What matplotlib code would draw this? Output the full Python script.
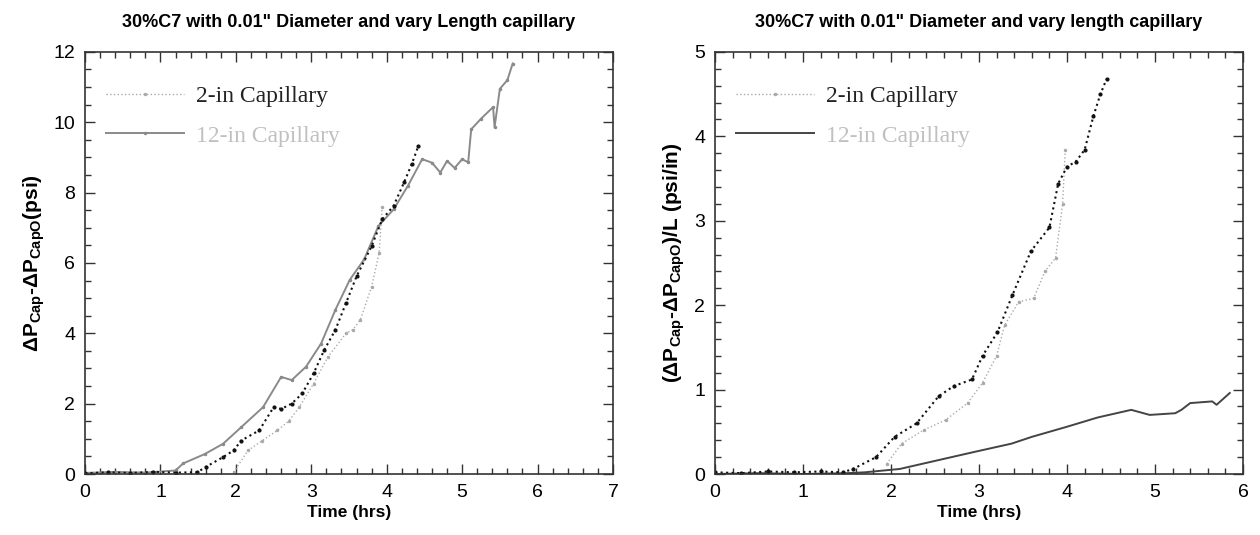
import numpy as np
import matplotlib
matplotlib.use("Agg")
import matplotlib.pyplot as plt
from matplotlib.ticker import MultipleLocator

plt.rcParams["font.family"] = ["Liberation Sans", "DejaVu Sans"]
plt.rcParams["mathtext.fontset"] = "custom"
plt.rcParams["mathtext.rm"] = "Liberation Sans"
plt.rcParams["mathtext.bf"] = "Liberation Sans:bold"

# left chart: dP (psi) vs time (hrs)
left_black_t = [0.0, 0.3, 0.6, 0.9, 1.2, 1.49, 1.6, 1.83, 1.97, 2.07, 2.31, 2.5, 2.6, 2.74,
                2.88, 3.03, 3.17, 3.32, 3.46, 3.6, 3.8, 3.94, 4.09, 4.23, 4.33, 4.42]
left_black_p = [0.02, 0.05, 0.03, 0.06, 0.04, 0.05, 0.2, 0.48, 0.67, 0.95, 1.24, 1.9, 1.85, 2.0,
                2.29, 2.86, 3.52, 4.1, 4.86, 5.62, 6.48, 7.24, 7.62, 8.29, 8.8, 9.33]

left_12in_t = [0.0, 0.4, 0.8, 1.2, 1.3, 1.59, 1.83, 2.07, 2.36, 2.6, 2.74, 2.93, 3.13, 3.32,
               3.51, 3.7, 3.89, 4.09, 4.28, 4.47, 4.6, 4.71, 4.8, 4.9, 5.0, 5.08, 5.12,
               5.25, 5.41, 5.43, 5.5, 5.6, 5.67]
left_12in_p = [0.03, 0.06, 0.04, 0.1, 0.3, 0.57, 0.86, 1.33, 1.9, 2.76, 2.67, 3.05, 3.71, 4.67,
               5.52, 6.1, 7.05, 7.52, 8.19, 8.95, 8.85, 8.57, 8.9, 8.7, 8.95, 8.86, 9.8,
               10.1, 10.43, 9.86, 10.95, 11.2, 11.67]

left_2in_t = [1.97, 2.16, 2.35, 2.55, 2.7, 2.84, 3.03, 3.22, 3.46, 3.55, 3.65, 3.8, 3.9, 3.94]
left_2in_p = [0.05, 0.67, 0.95, 1.24, 1.5, 1.9, 2.57, 3.33, 4.0, 4.1, 4.38, 5.33, 6.29, 7.6]

# right chart: dP/L (psi/in) vs time (hrs)
right_black_t = [0.0, 0.3, 0.6, 0.9, 1.2, 1.45, 1.57, 1.83, 2.04, 2.29, 2.54, 2.71, 2.92, 3.04,
                 3.21, 3.38, 3.59, 3.8, 3.9, 4.0, 4.1, 4.2, 4.3, 4.38, 4.45]
right_black_p = [0.02, 0.01, 0.03, 0.02, 0.03, 0.02, 0.06, 0.2, 0.44, 0.6, 0.92, 1.04, 1.12, 1.4,
                 1.68, 2.12, 2.64, 2.92, 3.44, 3.64, 3.7, 3.84, 4.24, 4.5, 4.68]

right_2in_t = [1.95, 2.12, 2.37, 2.62, 2.87, 3.04, 3.2, 3.29, 3.45, 3.62, 3.75, 3.87, 3.95, 3.98]
right_2in_p = [0.12, 0.36, 0.52, 0.64, 0.84, 1.08, 1.4, 1.76, 2.04, 2.08, 2.4, 2.56, 3.2, 3.84]

right_12in_t = [0.0, 0.5, 1.0, 1.5, 1.7, 2.1, 2.52, 2.94, 3.37, 3.6, 4.0, 4.35, 4.73, 4.94,
                5.23, 5.3, 5.4, 5.65, 5.7, 5.85]
right_12in_p = [0.0, 0.01, 0.0, 0.01, 0.02, 0.06, 0.16, 0.26, 0.36, 0.44, 0.56, 0.67, 0.76, 0.7,
                0.72, 0.76, 0.84, 0.86, 0.82, 0.96]

fig = plt.figure(figsize=(12.6, 5.35), dpi=100)
ax1 = fig.add_axes([0.0675, 0.114, 0.419, 0.789])
ax2 = fig.add_axes([0.5675, 0.114, 0.419, 0.789])


def style_axis(ax, xmax, ymax, ymaj, ymin_step):
    ax.set_xlim(0, xmax)
    ax.set_ylim(0, ymax)
    ax.xaxis.set_major_locator(MultipleLocator(1))
    ax.xaxis.set_minor_locator(MultipleLocator(0.2))
    ax.yaxis.set_major_locator(MultipleLocator(ymaj))
    ax.yaxis.set_minor_locator(MultipleLocator(ymin_step))
    ax.tick_params(which="both", direction="in", top=True, right=True,
                   labelsize=14, width=1, color="#333333")
    ax.tick_params(which="major", length=7, pad=7)
    ax.tick_params(which="minor", length=4)
    for s in ax.spines.values():
        s.set_color("#333333")
        s.set_linewidth(1.2)
    ax.set_xlabel("Time (hrs)", fontsize=12.5, fontweight="bold", labelpad=3)


# left panel
ax1.plot(left_2in_t, left_2in_p, ls=":", color="#aaaaaa", marker=".", ms=3, lw=1,
         label="2-in Capillary")
ax1.plot(left_12in_t, left_12in_p, ls="-", color="#8a8a8a", marker=".", ms=3, lw=1.4,
         label="12-in Capillary")
ax1.plot(left_black_t, left_black_p, ls=":", color="#111111", marker=".", ms=4, lw=1.5,
         label="_nolegend_")
style_axis(ax1, 7, 12, 2, 0.5)
ax1.set_ylabel(r"$\mathbf{\Delta P_{Cap}}$-$\mathbf{\Delta P_{CapO}}$(psi)",
               fontsize=15, fontweight="bold", labelpad=5)
ax1.set_title("30%C7 with 0.01\" Diameter and vary Length capillary",
              fontsize=13, fontweight="bold", pad=18)

# right panel
ax2.plot(right_2in_t, right_2in_p, ls=":", color="#aaaaaa", marker=".", ms=3, lw=1,
         label="2-in Capillary")
ax2.plot(right_12in_t, right_12in_p, ls="-", color="#444444", lw=1.4,
         label="12-in Capillary")
ax2.plot(right_black_t, right_black_p, ls=":", color="#111111", marker=".", ms=4, lw=1.5,
         label="_nolegend_")
style_axis(ax2, 6, 5, 1, 0.2)
ax2.set_ylabel(r"($\mathbf{\Delta P_{Cap}}$-$\mathbf{\Delta P_{CapO}}$)/L (psi/in)",
               fontsize=15, fontweight="bold", labelpad=5)
ax2.set_title("30%C7 with 0.01\" Diameter and vary length capillary",
              fontsize=13, fontweight="bold", pad=18)

for ax in (ax1, ax2):
    leg = ax.legend(loc="upper left", bbox_to_anchor=(0.0, 0.97), frameon=False,
                    prop={"family": "Liberation Serif", "size": 17},
                    handlelength=3.3, handletextpad=0.5, labelspacing=0.75)
    texts = leg.get_texts()
    texts[0].set_color("#222222")
    texts[1].set_color("#c0c0c0")

fig.savefig("out.png", dpi=100)
